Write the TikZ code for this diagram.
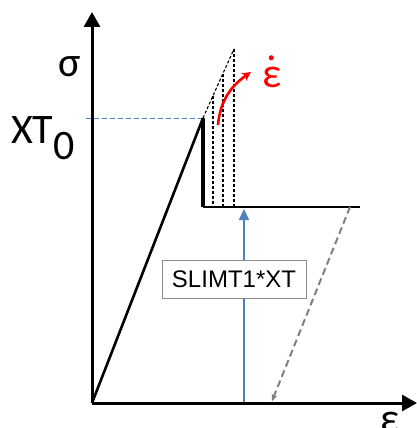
\documentclass[tikz,border=0pt]{standalone}
\usepackage{fontspec}
\setmainfont{Liberation Sans}
\newfontfamily\labelfont{Carlito}
\usetikzlibrary{arrows.meta, positioning}
\definecolor{limitblue}{RGB}{79,129,189}
\definecolor{unloadgray}{RGB}{128,128,128}
\definecolor{boxgray}{RGB}{140,140,140}
\definecolor{ratered}{RGB}{255,0,0}
\newcommand{\epsdot}{\ooalign{\hfil\raisebox{27pt}{.}\hfil\cr ε\cr}}
\tikzset{
  axis/.style={-{Triangle[length=15pt, width=16pt]}, line width=3pt, color=black},
  curve/.style={line width=2.6pt, color=black},
  dropline/.style={line width=3.2pt, color=black},
  rateline/.style={line width=1.1pt, dash pattern=on 3pt off 2pt, color=black},
  levelline/.style={line width=1pt, dash pattern=on 5pt off 3pt, color=limitblue},
  slimarrow/.style={-{Triangle[length=11pt, width=10pt]}, line width=2pt, color=limitblue},
  unloadarrow/.style={-{Stealth[length=7pt, width=6pt]}, line width=2pt,
    dash pattern=on 7pt off 4pt, color=unloadgray},
  ratearrow/.style={-{Stealth[length=9pt, width=9pt]}, line width=2.6pt, color=ratered},
  axislabel/.style={inner sep=0pt, font=\labelfont\fontsize{42}{50}\selectfont},
  limitbox/.style={
    rectangle, draw=boxgray, line width=1pt, fill=white,
    minimum width=144pt, minimum height=38pt, inner sep=0pt,
    font=\fontsize{24}{28}\selectfont, text=black
  }
}
\begin{document}
\begin{tikzpicture}[x=1pt, y=-1pt]
  \useasboundingbox (0,0) rectangle (417,428);

  \coordinate (O) at (92,403);
  \coordinate (ytip) at (92,12);
  \coordinate (xtip) at (417,403);
  \coordinate (peak) at (203,118);
  \coordinate (drop) at (203,207);
  \coordinate (plat) at (360,207);
  \coordinate (d1) at (213,96);
  \coordinate (d2) at (223,74);
  \coordinate (d3) at (234,49);
  \coordinate (xt0) at (86,118);
  \coordinate (sbase) at (244,403);
  \coordinate (stop) at (244,209);
  \coordinate (unl) at (350,207);
  \coordinate (unlend) at (272,401);
  \coordinate (r0) at (218,125);
  \coordinate (r1) at (251,72);

  \draw[levelline] (xt0) -- (peak);
  \draw[rateline] (peak) -- (d3);
  \draw[rateline] (d1) -- (d1 |- drop);
  \draw[rateline] (d2) -- (d2 |- drop);
  \draw[rateline] (d3) -- (d3 |- drop);

  \draw[curve] (O) -- (peak);
  \draw[dropline] (peak) -- (drop);
  \draw[curve] (drop) -- (plat);

  \draw[slimarrow] (sbase) -- (stop);
  \node[limitbox] (slim) at (234,279) {SLIMT1*XT};
  \draw[unloadarrow] (unl) -- (unlend);
  \draw[ratearrow] (r0) to[out=85, in=215] (r1);

  \draw[axis] (O) -- (ytip);
  \draw[axis] (O) -- (xtip);

  \node[axislabel, anchor=base] (sigma) at (70,77) {σ};
  \node[axislabel, anchor=base west] (xtlabel) at (11,143) {XT\raisebox{-16pt}{0}};
  \node[axislabel, anchor=base, text=ratered] (rate) at (272,87) {\epsdot};
  \node[axislabel, anchor=base] (epsx) at (390,432) {ε};
\end{tikzpicture}
\end{document}
